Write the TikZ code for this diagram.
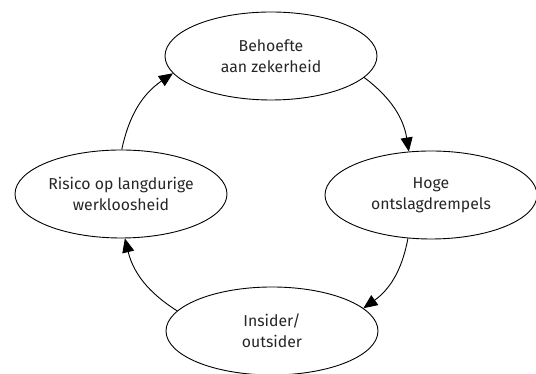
\documentclass[tikz,border=0pt]{standalone}
\usepackage{fontspec}
\setmainfont{Fira Sans}
\usetikzlibrary{arrows.meta,shapes.geometric}
\begin{document}
\begin{tikzpicture}[x=1pt,y=1pt,
  stateell/.style={ellipse,draw=black,line width=0.9pt,minimum width=212pt,minimum height=88pt,inner sep=0pt,align=center,font=\fontsize{15.8}{21}\selectfont,text=black!85},
  cyclearrow/.style={line width=0.9pt,-{Triangle[length=14pt,width=12pt]},bend left=22}]
\useasboundingbox (0,0) rectangle (536,374);
\node[stateell] (top) at (271,318) {Behoefte\\aan zekerheid};
\node[stateell] (right) at (431,179) {Hoge\\ontslagdrempels};
\node[stateell] (left) at (121,180) {Risico op langdurige\\werkloosheid};
\node[stateell] (bottom) at (272,43) {Insider/\\outsider};
\draw[cyclearrow] (top.-13) to (right.117);
\draw[cyclearrow] (right.-118) to (bottom.14);
\draw[cyclearrow] (bottom.168) to (left.-85);
\draw[cyclearrow] (left.89) to (top.-170);
\end{tikzpicture}
\end{document}
